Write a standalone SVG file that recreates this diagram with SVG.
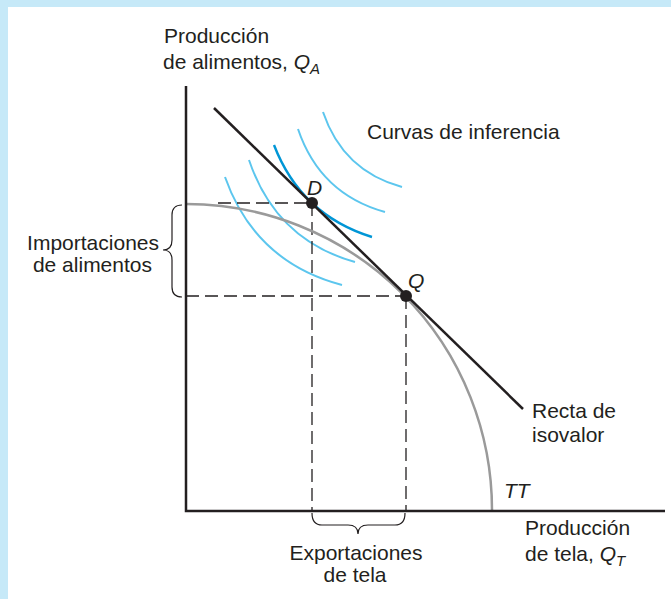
<svg xmlns="http://www.w3.org/2000/svg" width="671" height="599" viewBox="0 0 671 599">
<style>
text{font-family:"Liberation Sans",Arial,sans-serif;font-size:21px;fill:#231f20}
.it{font-style:italic}
.sub{font-size:15px;font-style:italic}
.ax{stroke:#231f20;stroke-width:2.5;fill:none}
.dash{stroke:#231f20;stroke-width:1.3;stroke-dasharray:13 6;fill:none}
.ic{stroke:#5cc6ee;stroke-width:2;fill:none}
.ic2{stroke:#0096d6;stroke-width:2.4;fill:none}
.brace{stroke:#231f20;stroke-width:1.2;fill:none}
</style>
<rect x="0" y="0" width="671" height="599" fill="#c6e9f8"/>
<rect x="8" y="7" width="663" height="592" fill="#ffffff"/>
<g id="curves">
<path class="ic" d="M225,177 Q255,262 342,285"/>
<path class="ic" d="M249,160 Q276,240 355,262"/>
<path class="ic2" d="M274,145 Q301,215 372,237"/>
<path class="ic" d="M298,129 Q320,194 385,212"/>
<path class="ic" d="M323,112 Q343,171 402,187"/>
</g>
<g id="connectors">
<path class="dash" d="M218,203 H312 M186,296 H406 M312,203 V510 M406,296 V510"/>
<path d="M186,204 A306,306 0 0 1 492,510" stroke="#9a9a9a" stroke-width="2.5" fill="none"/>
<path class="ax" d="M214,108 L523,409"/>
<path class="ax" d="M186,86 V511 H665"/>
<path class="brace" d="M182,205 Q172,205 172,215 V240 Q172,250 163,250 Q172,250 172,260 V287 Q172,297 182,297"/>
<path class="brace" d="M312,513 Q312,525 322,525 H348 Q358,525 358,534 Q358,525 368,525 H395 Q405,525 405,513"/>
</g>
<g id="D"><circle cx="312" cy="203" r="6" fill="#231f20"/><text class="it" x="307" y="195">D</text></g>
<g id="Q"><circle cx="406" cy="296" r="6" fill="#231f20"/><text class="it" x="408" y="288">Q</text></g>
<g id="labels">
<text x="164" y="43">Producción</text>
<text x="163" y="69">de alimentos, <tspan class="it">Q</tspan><tspan class="sub" dy="5">A</tspan></text>
<text x="367" y="139">Curvas de inferencia</text>
<text x="159" y="250" text-anchor="end">Importaciones</text>
<text x="152" y="272" text-anchor="end">de alimentos</text>
<text x="532" y="418">Recta de</text>
<text x="532" y="442">isovalor</text>
<text class="it" x="504" y="498">TT</text>
<text x="525" y="535">Producción</text>
<text x="525" y="561">de tela, <tspan class="it">Q</tspan><tspan class="sub" dy="5">T</tspan></text>
<text x="356" y="560" text-anchor="middle">Exportaciones</text>
<text x="355" y="582" text-anchor="middle">de tela</text>
</g>
</svg>
